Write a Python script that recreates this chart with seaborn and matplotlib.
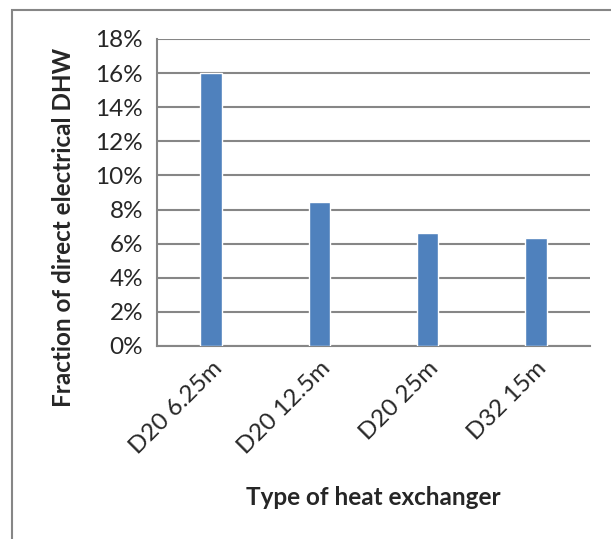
import matplotlib
matplotlib.use("Agg")
import matplotlib.pyplot as plt
import seaborn as sns
from matplotlib.patches import Rectangle
from matplotlib.ticker import FuncFormatter, FixedLocator

categories = ["D20 6.25m", "D20 12.5m", "D20 25m", "D32 15m"]
fractions = [0.160, 0.0845, 0.066, 0.0635]

BAR_COLOR = "#4F81BD"
GRID_COLOR = "#868686"
FS = 17.5

sns.set_style("white")
plt.rcParams["font.family"] = ["Lato", "DejaVu Sans"]

fig = plt.figure(figsize=(6.11, 5.39), dpi=100)
ax = fig.add_axes([157 / 611, 1 - 346 / 539, (590 - 157) / 611, (346 - 39) / 539])

sns.barplot(x=categories, y=fractions, color=BAR_COLOR, width=0.2,
            saturation=1, ax=ax, zorder=3)

ax.set_ylim(0, 0.18)
ax.set_xlim(-0.5, len(categories) - 0.5)
ax.set_yticks([i * 0.02 for i in range(10)])
ax.yaxis.set_major_formatter(FuncFormatter(lambda v, _: f"{v * 100:.0f}%"))
ax.yaxis.grid(True, color=GRID_COLOR, linewidth=1.5, zorder=0)
ax.set_axisbelow(True)

for side in ["top", "right"]:
    ax.spines[side].set_visible(False)
for side in ["left", "bottom"]:
    ax.spines[side].set_color(GRID_COLOR)
    ax.spines[side].set_linewidth(1.5)

ax.tick_params(axis="y", length=6, width=1.5, color=GRID_COLOR, labelsize=FS, pad=4)
ax.tick_params(axis="x", which="major", length=0, labelsize=FS, pad=8)
ax.xaxis.set_minor_locator(FixedLocator([i - 0.5 for i in range(len(categories) + 1)]))
ax.tick_params(axis="x", which="minor", length=6, width=1.5, color=GRID_COLOR)

for lbl in ax.get_xticklabels():
    lbl.set_rotation(45)
    lbl.set_ha("right")
    lbl.set_rotation_mode("anchor")

ax.set_xlabel("Type of heat exchanger", fontsize=FS, fontweight="bold")
ax.set_ylabel("Fraction of direct electrical DHW", fontsize=FS, fontweight="bold")
ax.xaxis.set_label_coords(0.5, -0.455)
ax.yaxis.set_label_coords(-0.19, 0.385)

fig.patches.append(Rectangle((12 / 611, -0.1), 1.2, 1 - 10 / 539 + 0.1,
                             transform=fig.transFigure, fill=False,
                             edgecolor=GRID_COLOR, linewidth=1.5))

fig.savefig("out.png", dpi=100)
